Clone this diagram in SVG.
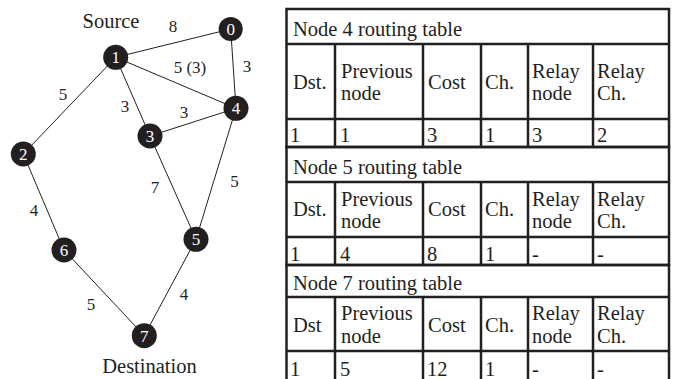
<svg xmlns="http://www.w3.org/2000/svg" width="676" height="379" viewBox="0 0 676 379">
  <style>
    text { font-family: 'Liberation Serif', 'DejaVu Serif', serif; fill: #231f20; }
    .edge { stroke: #231f20; stroke-width: 1; fill: none; }
    .node circle { fill: #231f20; }
    .node text { fill: #ffffff; font-size: 17px; text-anchor: middle; }
    .lbl { font-size: 17px; text-anchor: middle; }
    .cap { font-size: 20.5px; text-anchor: middle; }
    .grid { stroke: #231f20; stroke-width: 2.5; fill: none; }
    .cell { font-size: 20.5px; }
  </style>

  <!-- network graph -->
  <g id="connectors">
    <line class="edge" x1="115.7" y1="57.3" x2="230.7" y2="29"/>
    <line class="edge" x1="115.7" y1="57.3" x2="236" y2="108.3"/>
    <line class="edge" x1="230.7" y1="29" x2="236" y2="108.3"/>
    <line class="edge" x1="115.7" y1="57.3" x2="23.3" y2="154"/>
    <line class="edge" x1="115.7" y1="57.3" x2="150" y2="136"/>
    <line class="edge" x1="150" y1="136" x2="236" y2="108.3"/>
    <line class="edge" x1="150" y1="136" x2="196" y2="239.3"/>
    <line class="edge" x1="236" y1="108.3" x2="196" y2="239.3"/>
    <line class="edge" x1="23.3" y1="154" x2="64" y2="250"/>
    <line class="edge" x1="64" y1="250" x2="144.3" y2="335.7"/>
    <line class="edge" x1="196" y1="239.3" x2="144.3" y2="335.7"/>
  </g>

  <g id="edge-labels">
    <text class="lbl" x="173" y="32">8</text>
    <text class="lbl" x="190" y="73">5 (3)</text>
    <text class="lbl" x="247" y="72">3</text>
    <text class="lbl" x="63" y="100">5</text>
    <text class="lbl" x="125" y="112">3</text>
    <text class="lbl" x="184" y="118">3</text>
    <text class="lbl" x="234.5" y="187">5</text>
    <text class="lbl" x="155" y="193">7</text>
    <text class="lbl" x="34" y="216">4</text>
    <text class="lbl" x="91" y="310">5</text>
    <text class="lbl" x="184" y="300">4</text>
  </g>

  <g id="node-0" class="node"><circle cx="230.7" cy="29" r="12"/><text x="230.7" y="35">0</text></g>
  <g id="node-1" class="node"><circle cx="115.7" cy="57.3" r="12.5"/><text x="115.7" y="63.3">1</text></g>
  <g id="node-2" class="node"><circle cx="23.3" cy="154" r="12.5"/><text x="23.3" y="160">2</text></g>
  <g id="node-3" class="node"><circle cx="150" cy="136" r="12.5"/><text x="150" y="142">3</text></g>
  <g id="node-4" class="node"><circle cx="236" cy="108.3" r="12.5"/><text x="236" y="114.3">4</text></g>
  <g id="node-5" class="node"><circle cx="196" cy="239.3" r="12.5"/><text x="196" y="245.3">5</text></g>
  <g id="node-6" class="node"><circle cx="64" cy="250" r="12.5"/><text x="64" y="256">6</text></g>
  <g id="node-7" class="node"><circle cx="144.3" cy="335.7" r="12.5"/><text x="144.3" y="341.7">7</text></g>

  <text class="cap" x="111" y="28.3">Source</text>
  <text class="cap" x="149.5" y="372.7">Destination</text>

  <!-- Node 4 routing table -->
  <g id="table-node4">
    <rect class="grid" x="286.5" y="9" width="382.5" height="138"/>
    <line class="grid" x1="286.5" y1="44" x2="669" y2="44"/>
    <line class="grid" x1="286.5" y1="119" x2="669" y2="119"/>
    <path class="grid" d="M335 44V147M423 44V147M481 44V147M528 44V147M593 44V147"/>
    <text class="cell" x="293" y="35.7">Node 4 routing table</text>
    <text class="cell" x="293" y="89">Dst.</text>
    <text class="cell" x="341" y="78">Previous</text>
    <text class="cell" x="341" y="100">node</text>
    <text class="cell" x="428" y="89">Cost</text>
    <text class="cell" x="485" y="89">Ch.</text>
    <text class="cell" x="532" y="78">Relay</text>
    <text class="cell" x="532" y="100">node</text>
    <text class="cell" x="597" y="78">Relay</text>
    <text class="cell" x="597" y="100">Ch.</text>
    <text class="cell" x="290" y="142">1</text>
    <text class="cell" x="340" y="142">1</text>
    <text class="cell" x="427" y="142">3</text>
    <text class="cell" x="485" y="142">1</text>
    <text class="cell" x="532" y="142">3</text>
    <text class="cell" x="597" y="142">2</text>
  </g>

  <!-- Node 5 routing table -->
  <g id="table-node5">
    <rect class="grid" x="286.5" y="147" width="382.5" height="118"/>
    <line class="grid" x1="286.5" y1="182" x2="669" y2="182"/>
    <line class="grid" x1="286.5" y1="237" x2="669" y2="237"/>
    <path class="grid" d="M335 182V265M423 182V265M481 182V265M528 182V265M593 182V265"/>
    <text class="cell" x="293" y="173.5">Node 5 routing table</text>
    <text class="cell" x="293" y="216">Dst.</text>
    <text class="cell" x="341" y="205.5">Previous</text>
    <text class="cell" x="341" y="227.5">node</text>
    <text class="cell" x="428" y="216">Cost</text>
    <text class="cell" x="485" y="216">Ch.</text>
    <text class="cell" x="532" y="205.5">Relay</text>
    <text class="cell" x="532" y="227.5">node</text>
    <text class="cell" x="597" y="205.5">Relay</text>
    <text class="cell" x="597" y="227.5">Ch.</text>
    <text class="cell" x="290" y="261">1</text>
    <text class="cell" x="340" y="261">4</text>
    <text class="cell" x="427" y="261">8</text>
    <text class="cell" x="485" y="261">1</text>
    <text class="cell" x="532" y="261">-</text>
    <text class="cell" x="597" y="261">-</text>
  </g>

  <!-- Node 7 routing table -->
  <g id="table-node7">
    <rect class="grid" x="286.5" y="265" width="382.5" height="118"/>
    <line class="grid" x1="286.5" y1="297" x2="669" y2="297"/>
    <line class="grid" x1="286.5" y1="351" x2="669" y2="351"/>
    <path class="grid" d="M335 297V383M423 297V383M481 297V383M528 297V383M593 297V383"/>
    <text class="cell" x="293" y="290">Node 7 routing table</text>
    <text class="cell" x="293" y="332">Dst</text>
    <text class="cell" x="341" y="320">Previous</text>
    <text class="cell" x="341" y="342.5">node</text>
    <text class="cell" x="428" y="332">Cost</text>
    <text class="cell" x="485" y="332">Ch.</text>
    <text class="cell" x="532" y="320">Relay</text>
    <text class="cell" x="532" y="342.5">node</text>
    <text class="cell" x="597" y="320">Relay</text>
    <text class="cell" x="597" y="342.5">Ch.</text>
    <text class="cell" x="290" y="376">1</text>
    <text class="cell" x="340" y="376">5</text>
    <text class="cell" x="427" y="376">12</text>
    <text class="cell" x="485" y="376">1</text>
    <text class="cell" x="532" y="376">-</text>
    <text class="cell" x="597" y="376">-</text>
  </g>
</svg>
